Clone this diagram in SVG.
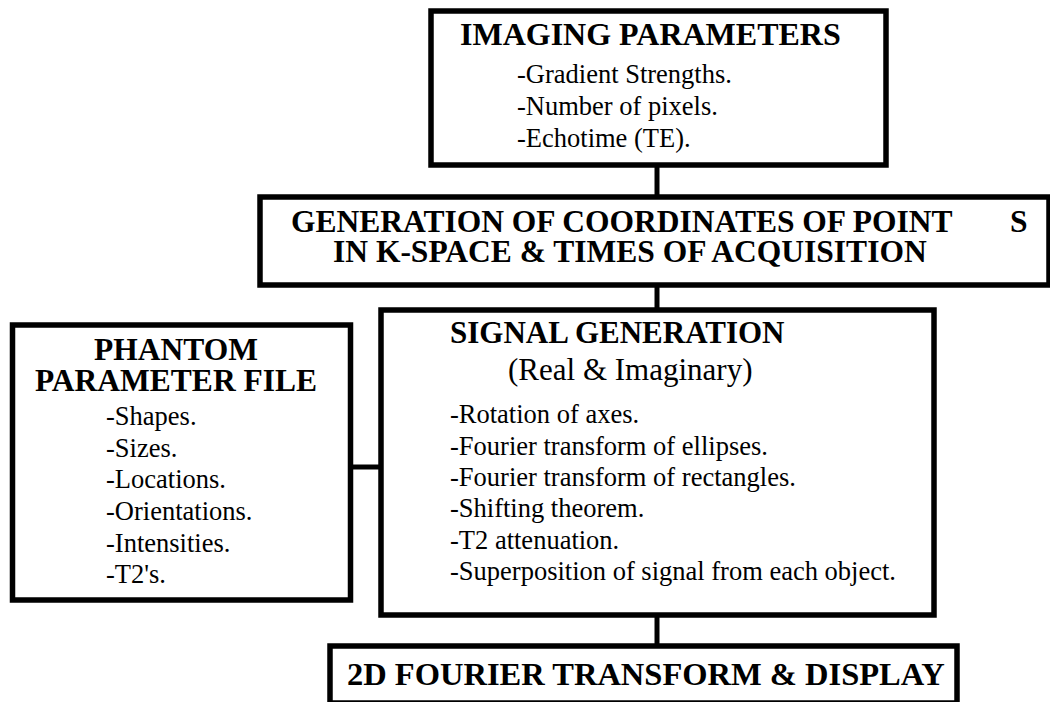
<svg xmlns="http://www.w3.org/2000/svg" width="1050" height="702" viewBox="0 0 1050 702">
<style>
.box{fill:#fff;stroke:#000;stroke-width:5.5}
.conn{stroke:#000;stroke-width:5;fill:none}
.t{font-family:"Liberation Serif","Times New Roman",serif;fill:#000}
.b{font-weight:bold;font-size:31.5px}
.r{font-size:26.5px}
.rt{font-size:31px}
</style>
<rect width="1050" height="702" fill="#fff"/>
<g id="connectors">
<line class="conn" x1="657" y1="165" x2="657" y2="198"/>
<line class="conn" x1="657" y1="285" x2="657" y2="310"/>
<line class="conn" x1="350" y1="467" x2="381" y2="467"/>
<line class="conn" x1="657" y1="615" x2="657" y2="646"/>
</g>
<g id="imaging">
<rect class="box" x="431" y="11" width="455" height="154"/>
<text class="t b" x="460" y="45" style="font-size:32px">IMAGING PARAMETERS</text>
<text class="t r" x="517" y="83">-Gradient Strengths.</text>
<text class="t r" x="517" y="115">-Number of pixels.</text>
<text class="t r" x="517" y="147">-Echotime (TE).</text>
</g>
<g id="generation">
<rect class="box" x="260" y="197" width="789" height="88"/>
<text class="t b" x="291" y="232">GENERATION OF COORDINATES OF POINT<tspan x="1010">S</tspan></text>
<text class="t b" x="333" y="262">IN K-SPACE &amp; TIMES OF ACQUISITION</text>
</g>
<g id="phantom">
<rect class="box" x="12.5" y="325" width="338" height="275"/>
<text class="t b" x="176" y="360" text-anchor="middle">PHANTOM</text>
<text class="t b" x="176" y="391" text-anchor="middle">PARAMETER FILE</text>
<text class="t r" x="106" y="425">-Shapes.</text>
<text class="t r" x="106" y="457">-Sizes.</text>
<text class="t r" x="106" y="488">-Locations.</text>
<text class="t r" x="106" y="520">-Orientations.</text>
<text class="t r" x="106" y="552">-Intensities.</text>
<text class="t r" x="106" y="583">-T2's.</text>
</g>
<g id="signal">
<rect class="box" x="381" y="310" width="553" height="305"/>
<text class="t b" x="450" y="343" style="font-size:31px">SIGNAL GENERATION</text>
<text class="t rt" x="508" y="380">(Real &amp; Imaginary)</text>
<text class="t r" x="450" y="423">-Rotation of axes.</text>
<text class="t r" x="450" y="455">-Fourier transform of ellipses.</text>
<text class="t r" x="450" y="486">-Fourier transform of rectangles.</text>
<text class="t r" x="450" y="517">-Shifting theorem.</text>
<text class="t r" x="450" y="549">-T2 attenuation.</text>
<text class="t r" x="450" y="580">-Superposition of signal from each object.</text>
</g>
<g id="fourier">
<rect class="box" x="330" y="646" width="627" height="57"/>
<text class="t b" x="347" y="685" style="font-size:32.5px">2D FOURIER TRANSFORM &amp; DISPLAY</text>
</g>
</svg>
